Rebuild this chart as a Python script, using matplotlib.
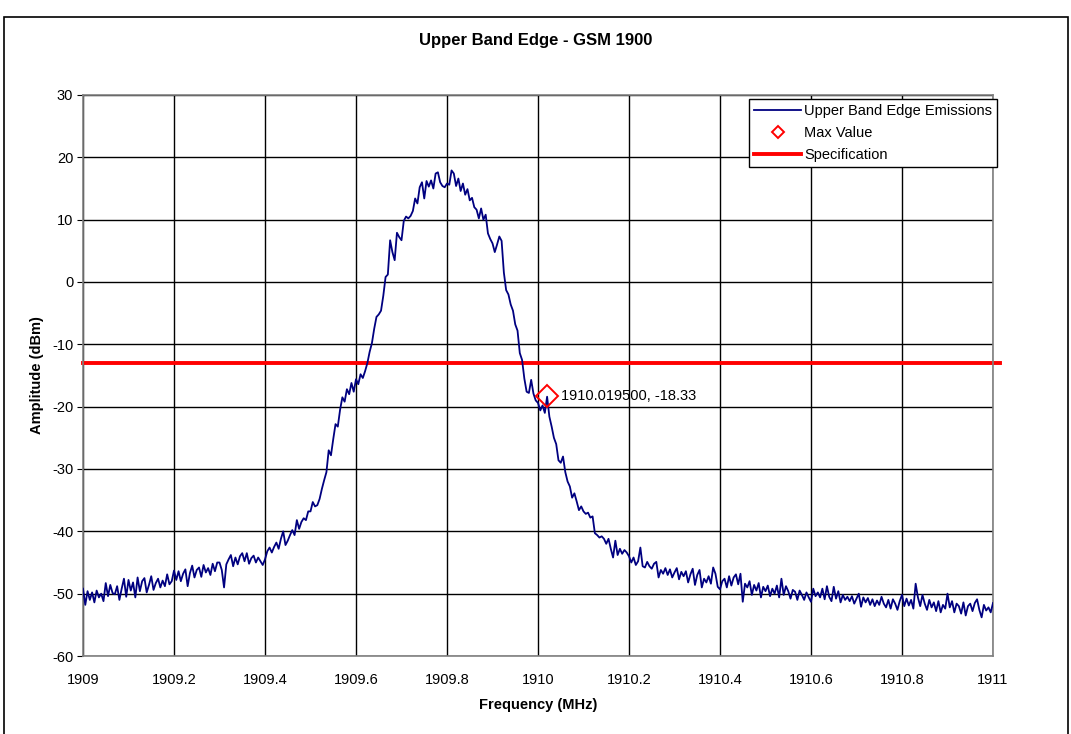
import numpy as np
import matplotlib.pyplot as plt
from matplotlib.patches import Rectangle

plt.rcParams['font.family'] = ['Liberation Sans', 'DejaVu Sans']
plt.rcParams['axes.unicode_minus'] = False

# sweep 1909 - 1911 MHz, amplitude in dBm (0.005 MHz steps)
amplitude = [
    # 1909.000 - 1909.095
    -49.2, -51.8, -49.6, -51.0, -49.8, -51.4, -49.5, -50.6, -50.0, -51.2,
    -48.3, -50.4, -48.6, -49.9, -50.1, -48.8, -51.0, -49.2, -47.6, -50.5,
    # 1909.100 - 1909.195
    -47.8, -49.5, -48.2, -50.6, -47.4, -49.6, -48.0, -47.5, -49.8, -48.6,
    -47.2, -49.4, -48.3, -47.6, -49.0, -47.9, -48.8, -46.9, -48.5, -48.0,
    # 1909.200 - 1909.295
    -46.3, -47.8, -46.4, -48.0, -46.8, -46.1, -48.8, -46.7, -45.5, -47.4,
    -46.2, -45.8, -47.3, -45.4, -46.6, -45.9, -47.0, -45.2, -46.4, -45.0,
    # 1909.300 - 1909.395
    -45.0, -46.2, -49.0, -45.3, -44.5, -43.8, -45.6, -44.2, -45.3, -44.0,
    -43.5, -44.8, -43.5, -45.2, -44.3, -43.9, -45.0, -44.2, -44.8, -45.4,
    # 1909.400 - 1909.495
    -44.5, -43.2, -42.6, -43.4, -42.5, -41.8, -42.8, -41.2, -40.0, -42.2,
    -41.5, -40.6, -39.8, -40.6, -38.2, -39.6, -38.5, -37.9, -38.2, -36.8,
    # 1909.500 - 1909.595
    -36.8, -35.3, -36.0, -35.8, -34.8, -33.2, -31.8, -30.5, -27.0, -27.8,
    -25.2, -22.8, -23.2, -20.5, -18.5, -19.2, -17.2, -18.0, -16.2, -17.6,
    # 1909.600 - 1909.695
    -15.6, -16.4, -14.8, -15.4, -14.3, -13.0, -11.2, -9.8, -7.5, -5.6,
    -5.2, -4.6, -2.2, 0.8, 1.2, 6.7, 4.8, 3.5, 7.9, 7.2,
    # 1909.700 - 1909.795
    6.7, 9.8, 10.5, 10.2, 10.6, 11.4, 13.4, 12.6, 15.2, 16.0,
    13.4, 16.2, 15.3, 16.3, 15.0, 17.4, 17.6, 16.0, 15.4, 15.2,
    # 1909.800 - 1909.895
    15.8, 15.6, 17.9, 17.4, 15.4, 16.6, 14.6, 15.8, 14.0, 14.9,
    13.1, 13.5, 12.0, 11.6, 10.2, 11.8, 10.0, 10.8, 7.8, 6.9,
    # 1909.900 - 1909.995
    6.2, 4.8, 6.0, 7.3, 6.6, 1.5, -1.3, -2.0, -3.6, -4.6,
    -6.8, -7.8, -11.4, -12.5, -15.5, -17.6, -17.8, -15.7, -17.9, -19.0,
    # 1910.000 - 1910.095
    -19.4, -20.6, -19.8, -21.0, -18.4, -21.6, -23.2, -25.0, -26.0, -28.6,
    -29.0, -28.0, -30.5, -32.0, -32.8, -34.6, -33.9, -35.2, -36.6, -36.0,
    # 1910.100 - 1910.195
    -36.8, -37.2, -37.0, -37.8, -37.6, -40.3, -40.6, -41.0, -40.8, -41.2,
    -42.0, -41.2, -42.8, -44.2, -41.5, -43.8, -42.8, -43.6, -43.0, -43.4,
    # 1910.200 - 1910.295
    -44.0, -45.0, -44.2, -45.4, -44.8, -42.6, -45.6, -45.8, -44.9, -45.6,
    -46.0, -45.2, -44.9, -47.4, -46.2, -46.8, -45.9, -47.0, -46.1, -47.4,
    # 1910.300 - 1910.395
    -46.6, -45.9, -47.7, -46.5, -47.2, -46.4, -48.2, -46.9, -46.0, -48.6,
    -47.0, -46.2, -49.0, -47.6, -48.2, -47.2, -48.4, -45.8, -46.8, -48.9,
    # 1910.400 - 1910.495
    -49.3, -48.0, -47.6, -49.0, -47.2, -48.7, -47.4, -46.9, -48.5, -46.8,
    -51.3, -48.4, -49.0, -48.0, -50.2, -48.6, -49.5, -48.3, -50.6, -48.9,
    # 1910.500 - 1910.595
    -49.6, -48.7, -50.4, -49.2, -50.0, -48.7, -50.6, -47.6, -50.2, -48.8,
    -49.6, -50.8, -49.4, -49.7, -51.0, -49.5, -50.2, -51.0, -49.8, -50.6,
    # 1910.600 - 1910.695
    -51.3, -49.2, -50.4, -49.8, -50.6, -49.2, -50.9, -48.8, -50.5, -51.2,
    -48.9, -50.8, -49.6, -51.4, -50.2, -51.0, -50.5, -51.2, -50.4, -51.6,
    # 1910.700 - 1910.795
    -50.8, -50.0, -52.1, -50.6, -51.4, -50.7, -51.8, -50.9, -52.0, -51.1,
    -51.8, -50.5, -51.6, -52.2, -51.0, -52.4, -50.9, -51.6, -52.6, -51.2,
    # 1910.800 - 1910.895
    -50.2, -52.0, -50.8, -51.9, -51.0, -52.4, -48.4, -50.6, -52.0, -50.2,
    -51.6, -52.6, -51.0, -52.2, -51.4, -52.8, -51.2, -53.0, -51.8, -52.4,
    # 1910.900 - 1911.000
    -50.0, -52.2, -51.2, -53.0, -51.6, -52.0, -53.2, -51.4, -53.5, -52.0,
    -51.6, -52.8, -51.5, -50.9, -52.6, -53.8, -51.8, -52.7, -52.2, -53.0,
    -51.5,
]
freq_start, freq_stop = 1909.0, 1911.0
freq = np.linspace(freq_start, freq_stop, len(amplitude))

max_freq = 1910.0195
max_amp = -18.33
spec_limit = -13

xticks = [1909, 1909.2, 1909.4, 1909.6, 1909.8, 1910, 1910.2, 1910.4, 1910.6, 1910.8, 1911]
xticklabels = ['1909', '1909.2', '1909.4', '1909.6', '1909.8', '1910',
               '1910.2', '1910.4', '1910.6', '1910.8', '1911']
yticks = [30, 20, 10, 0, -10, -20, -30, -40, -50, -60]

fig = plt.figure(figsize=(10.71, 7.34), dpi=100)
ax = fig.add_axes([83/1071, 1 - 656/734, 910/1071, 561/734])

# outer chart frame
fig.patches.append(Rectangle((4/1071, -0.05), 1064/1071, 1.05 - 17/734,
                             transform=fig.transFigure, fill=False,
                             edgecolor='black', lw=1.2))

ax.plot(freq, amplitude, color='#000080', lw=1.3, label='Upper Band Edge Emissions', zorder=3)
ax.plot([max_freq], [max_amp], linestyle='none', marker='D', markersize=11,
        markerfacecolor='none', markeredgecolor='red', markeredgewidth=1.4,
        label='Max Value', zorder=4)
ax.axhline(spec_limit, color='red', lw=2.8, label='Specification', zorder=2,
           clip_on=False, xmax=1.008)
ax.text(max_freq + 0.032, max_amp, '%.6f, %.2f' % (max_freq, max_amp),
        fontsize=10.5, va='center', ha='left')

ax.set_xlim(freq_start, freq_stop)
ax.set_ylim(-60, 30)
ax.set_xticks(xticks)
ax.set_xticklabels(xticklabels)
ax.set_yticks(yticks)
ax.tick_params(axis='both', labelsize=10.5, colors='black')
ax.tick_params(axis='x', length=0, pad=12)
ax.tick_params(axis='y', length=4, direction='out', pad=3)
ax.grid(True, color='black', lw=1)
ax.set_axisbelow(True)
for s in ax.spines.values():
    s.set_color('#808080')
    s.set_linewidth(1.2)

ax.set_xlabel('Frequency (MHz)', fontsize=10.5, fontweight='bold', labelpad=8)
ax.set_ylabel('Amplitude (dBm)', fontsize=10.5, fontweight='bold', labelpad=6)
fig.text(0.5, 1 - 40/734, 'Upper Band Edge - GSM 1900', ha='center', va='center',
         fontsize=12, fontweight='bold')

leg = ax.legend(loc='upper right', bbox_to_anchor=(997/1071, 1 - 99/734),
                bbox_transform=fig.transFigure, fontsize=10.5, frameon=True,
                fancybox=False, framealpha=1, edgecolor='black',
                borderpad=0.35, labelspacing=0.55, handlelength=3.2,
                handletextpad=0.2, borderaxespad=0, markerscale=0.6)
leg.get_frame().set_linewidth(1)

fig.savefig('out.png', dpi=100)
